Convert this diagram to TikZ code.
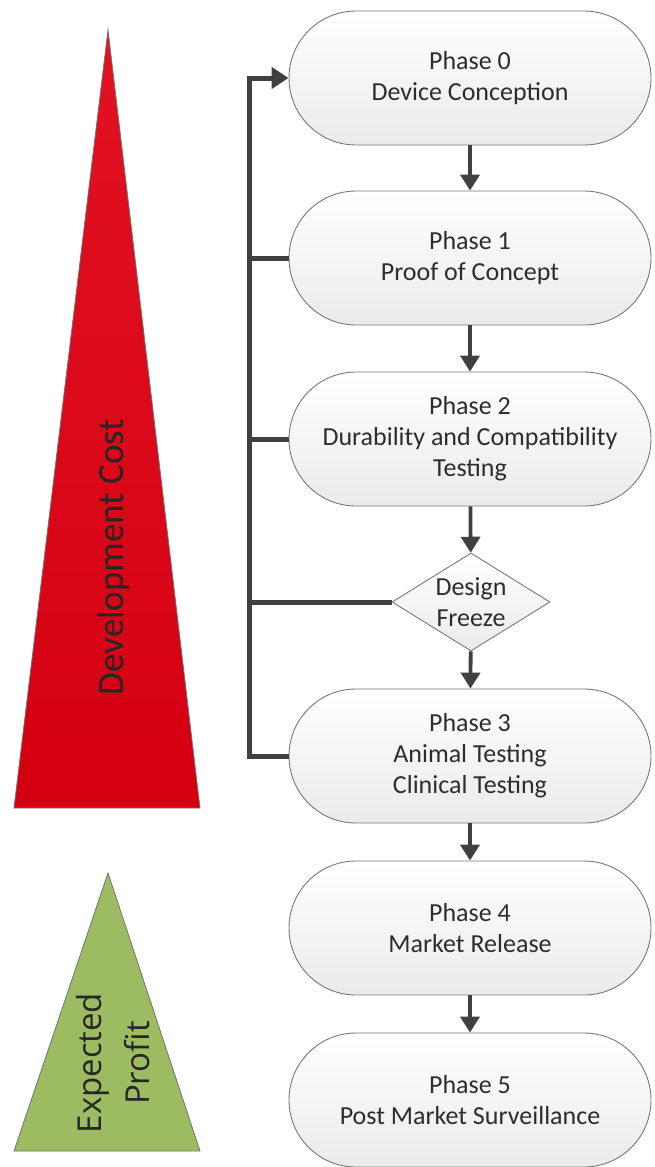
\documentclass[tikz,border=0pt]{standalone}
\usepackage{fontspec}
\setmainfont{Carlito}
\newfontfamily\opensansfam{Open Sans}
\usetikzlibrary{shapes.geometric,arrows.meta}
\definecolor{devredtop}{RGB}{226,18,34}
\definecolor{devred}{RGB}{212,0,18}
\definecolor{profgreen}{RGB}{157,187,97}
\definecolor{boxline}{RGB}{120,120,120}
\definecolor{arrowgray}{RGB}{64,64,64}
\definecolor{txtgray}{RGB}{45,45,45}
\tikzset{
  phase/.style={rectangle, rounded corners=67pt, minimum width=362pt, minimum height=134pt,
    draw=boxline, line width=0.9pt, top color=white, bottom color=black!8,
    align=center, font=\fontsize{26}{31}\selectfont, text=txtgray, inner sep=0pt},
  decide/.style={diamond, minimum width=158pt, minimum height=98pt, aspect=1.6,
    draw=boxline, line width=0.9pt, top color=white, bottom color=black!8,
    align=center, font=\fontsize{26}{31}\selectfont, text=txtgray, inner sep=0pt},
  flow/.style={draw=arrowgray, line width=3.8pt, -{Triangle[length=16pt,width=19pt]}},
  fb/.style={draw=arrowgray, line width=5pt},
  tri/.style={draw=black!55, line width=0.8pt},
}
\begin{document}
\begin{tikzpicture}[x=1pt,y=-1pt]
\useasboundingbox (0,0) rectangle (655,1167);
% triangles
\path[tri, top color=devredtop, bottom color=devred] (108,30) -- (200,808) -- (14,808) -- cycle;
\node[rotate=90, font=\fontsize{37}{40}\selectfont, text=black!85] (dc) at (114,557) {Development Cost};
\path[tri, fill=profgreen] (108,873) -- (200,1151) -- (14,1151) -- cycle;
\node[rotate=90, font=\opensansfam\fontsize{33}{48}\selectfont, align=center, text=black!85] (ep) at (113,1063) {Expected\\Profit};
% nodes
\node[phase] (p0) at (470,78) {Phase 0\\Device Conception};
\node[phase] (p1) at (470,258) {Phase 1\\Proof of Concept};
\node[phase] (p2) at (470,439) {Phase 2\\Durability and Compatibility\\Testing};
\node[decide] (df) at (471,602) {Design\\Freeze};
\node[phase] (p3) at (470,756) {Phase 3\\Animal Testing\\Clinical Testing};
\node[phase] (p4) at (470,928) {Phase 4\\Market Release};
\node[phase] (p5) at (470,1100) {Phase 5\\Post Market Surveillance};
% flow arrows
\draw[flow] (p0) -- (p1);
\draw[flow] (p1) -- (p2);
\draw[flow] (p2) -- (df);
\draw[flow] (df) -- (p3);
\draw[flow] (p3) -- (p4);
\draw[flow] (p4) -- (p5);
% feedback bus
\coordinate (bus) at (249,0);
\draw[fb, -{Triangle[length=17pt,width=21pt]}] (p3.west) -- (p3.west -| bus) |- (p0.west);
\draw[fb] (p1.west) -- (p1.west -| bus);
\draw[fb] (p2.west) -- (p2.west -| bus);
\draw[fb] (df.west) -- (df.west -| bus);
\end{tikzpicture}
\end{document}
